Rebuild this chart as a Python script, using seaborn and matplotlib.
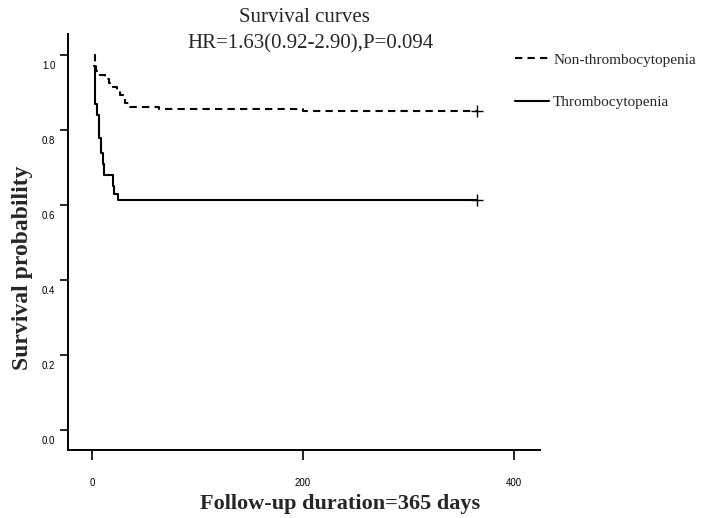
import matplotlib
matplotlib.use("Agg")
import matplotlib.pyplot as plt
import matplotlib.transforms as mtransforms
import seaborn as sns
import pandas as pd

# ---- data ----
groups = ["Non-thrombocytopenia", "Thrombocytopenia"]
non_time = [1.5, 3, 4, 8, 12, 16, 20, 24, 27, 31, 36, 64, 200, 365]
non_surv = [1.0, 0.975, 0.958, 0.948, 0.937, 0.926, 0.915, 0.903, 0.893, 0.872, 0.861, 0.855, 0.851, 0.851]
thr_time = [2, 2.5, 5, 7, 8.5, 10, 11.5, 19.5, 21, 25, 365]
thr_surv = [0.97, 0.87, 0.84, 0.78, 0.74, 0.71, 0.68, 0.65, 0.63, 0.613, 0.613]
censor_time = [365, 365]
censor_surv = [0.851, 0.613]
x_ticks = [0, 200, 400]
y_ticks = [0.0, 0.2, 0.4, 0.6, 0.8, 1.0]
y_ticklabels = ["0.0", "0.2", "0.4", "0.6", "0.8", "1.0"]
title_text = "Survival curves"
subtitle_text = "HR=1.63(0.92-2.90),P=0.094"
x_label = "Follow-up duration=365 days"
y_label = "Survival probability"

sns.set_style("white")
plt.rcParams["font.family"] = ["Liberation Serif", "DejaVu Serif"]

fig = plt.figure(figsize=(7.04, 5.18), dpi=100)
ax = fig.add_axes([68 / 704, 1 - 450 / 518, (540 - 68) / 704, (450 - 34) / 518])

df_non = pd.DataFrame({"time": non_time, "surv": non_surv})
df_thr = pd.DataFrame({"time": thr_time, "surv": thr_surv})

sns.lineplot(data=df_non, x="time", y="surv", ax=ax, color="black",
             drawstyle="steps-post", linestyle=(0, (3.5, 2.5)), lw=1.5,
             label=groups[0], sort=False, estimator=None)
sns.lineplot(data=df_thr, x="time", y="surv", ax=ax, color="black",
             drawstyle="steps-post", lw=1.5, label=groups[1],
             sort=False, estimator=None)
sns.scatterplot(x=censor_time, y=censor_surv, ax=ax, marker="+", color="black",
                s=70, linewidth=1.0, legend=False)

ax.set_xlim(-22.7, 424.6)
ax.set_ylim(-0.0533, 1.056)
ax.set_xticks(x_ticks)
ax.set_xticklabels([str(v) for v in x_ticks])
ax.set_yticks(y_ticks)
ax.set_yticklabels(y_ticklabels)

for side in ["top", "right"]:
    ax.spines[side].set_visible(False)
for side in ["left", "bottom"]:
    ax.spines[side].set_color("black")
    ax.spines[side].set_linewidth(1.4)

ax.tick_params(axis="y", direction="out", length=6, width=1.2, pad=3,
               labelsize=7, colors="black", left=True)
ax.tick_params(axis="x", direction="out", length=7, width=1.2, pad=13,
               labelsize=7, colors="black", bottom=True)
for lab in ax.get_xticklabels() + ax.get_yticklabels():
    lab.set_fontfamily("Liberation Sans")
offset = mtransforms.ScaledTranslation(0, -10 / 100, fig.dpi_scale_trans)
for lab in ax.get_yticklabels():
    lab.set_transform(lab.get_transform() + offset)

ax.set_xlabel(x_label, fontsize=16, fontweight="bold")
ax.set_ylabel(y_label, fontsize=17, fontweight="bold")
ax.xaxis.set_label_coords((340 - 68) / (540 - 68), -(494 - 450) / (450 - 34))
ax.yaxis.set_label_coords(-(68 - 33) / (540 - 68), (450 - 268) / (450 - 34))

fig.text(304 / 704, 1 - 18 / 518, title_text, ha="center", va="center", fontsize=15)
fig.text(311 / 704, 1 - 44 / 518, subtitle_text, ha="center", va="center", fontsize=15)

ax.legend(loc="upper left", bbox_to_anchor=(515 / 704, 1 - 53 / 518),
          bbox_transform=fig.transFigure, frameon=False, fontsize=11,
          handlelength=2.2, handletextpad=0.3, labelspacing=1.9,
          borderpad=0, borderaxespad=0)

fig.savefig("out.png", dpi=100)
